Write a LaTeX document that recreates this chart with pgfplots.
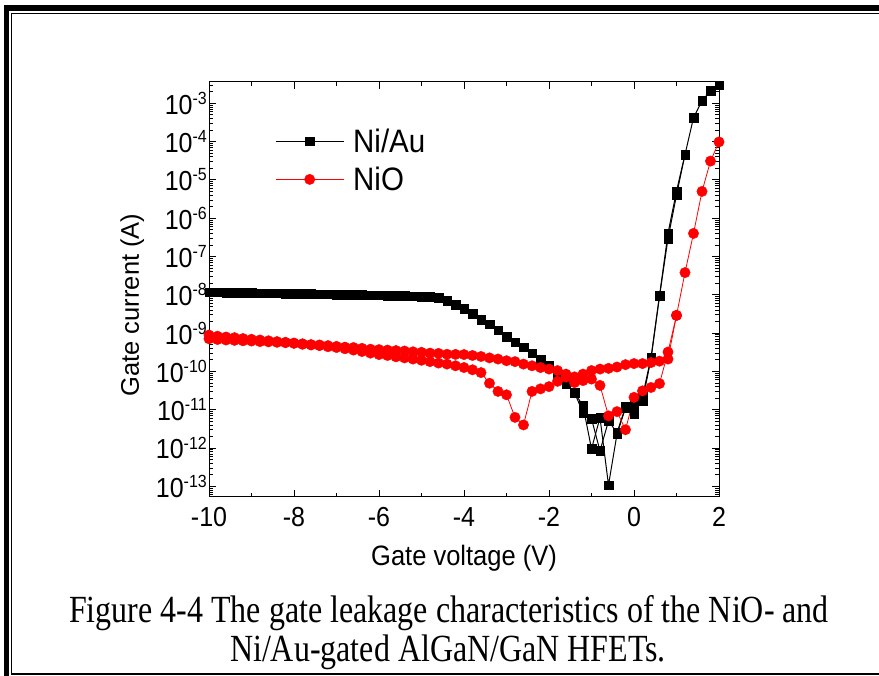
\documentclass[border=0pt]{standalone}
\usepackage{pgfplots}
\pgfplotsset{compat=1.18}
\usepackage{pgfplotstable}
\usepackage{fontspec}
\usepackage{graphicx}
\setmainfont{Liberation Sans}
\newfontfamily\capfont{Liberation Serif}

% Ni/Au, main sweep
\pgfplotstableread{
V I
-10.0 1.17e-8
-9.8 1.16e-8
-9.6 1.15e-8
-9.4 1.14e-8
-9.2 1.13e-8
-9.0 1.12e-8
-8.8 1.11e-8
-8.6 1.10e-8
-8.4 1.09e-8
-8.2 1.08e-8
-8.0 1.07e-8
-7.8 1.06e-8
-7.6 1.05e-8
-7.4 1.04e-8
-7.2 1.03e-8
-7.0 1.02e-8
-6.8 1.01e-8
-6.6 1.00e-8
-6.4 9.9e-9
-6.2 9.8e-9
-6.0 9.7e-9
-5.8 9.6e-9
-5.6 9.5e-9
-5.4 9.4e-9
-5.2 9.2e-9
-5.0 9.0e-9
-4.8 8.8e-9
-4.6 8.3e-9
-4.4 7.0e-9
-4.2 5.6e-9
-4.0 4.3e-9
-3.8 3.2e-9
-3.6 2.2e-9
-3.4 1.7e-9
-3.2 1.2e-9
-3.0 8.1e-10
-2.8 5.8e-10
-2.6 4.3e-10
-2.4 3.0e-10
-2.2 2.0e-10
-2.0 1.4e-10
-1.8 8.5e-11
-1.6 4.7e-11
-1.4 2.8e-11
-1.2 1.26e-11
-1.0 9.5e-13
-0.8 6.2e-12
-0.6 1.07e-13
-0.4 2.3e-12
-0.2 1.1e-11
0.0 1.25e-11
0.2 1.7e-11
0.4 2.1e-10
0.6 9.1e-9
0.8 2.95e-7
1.0 4.0e-6
1.2 4.6e-5
1.4 4.2e-4
1.6 1.17e-3
1.8 2.1e-3
2.0 3.0e-3
}\niauA

% Ni/Au, second sweep where it differs
\pgfplotstableread{
V I
-1.4 2.8e-11
-1.2 8.3e-12
-1.0 5.8e-12
-0.8 8.4e-13
-0.6 5.1e-12
-0.4 2.5e-12
-0.2 1.2e-11
0.0 7.6e-12
0.2 2.2e-11
0.4 2.3e-10
0.6 9.5e-9
0.8 4.0e-7
1.0 5.1e-6
1.2 4.6e-5
}\niauB

% NiO, lower sweep
\pgfplotstableread{
V I
-10.0 7.1e-10
-9.8 6.8e-10
-9.6 6.6e-10
-9.4 6.45e-10
-9.2 6.3e-10
-9.0 6.2e-10
-8.8 6.0e-10
-8.6 5.9e-10
-8.4 5.75e-10
-8.2 5.6e-10
-8.0 5.4e-10
-7.8 5.1e-10
-7.6 4.9e-10
-7.4 4.7e-10
-7.2 4.4e-10
-7.0 4.2e-10
-6.8 3.9e-10
-6.6 3.6e-10
-6.4 3.3e-10
-6.2 3.0e-10
-6.0 2.75e-10
-5.8 2.6e-10
-5.6 2.4e-10
-5.4 2.25e-10
-5.2 2.1e-10
-5.0 1.95e-10
-4.8 1.8e-10
-4.6 1.65e-10
-4.4 1.55e-10
-4.2 1.4e-10
-4.0 1.26e-10
-3.8 1.1e-10
-3.6 9.3e-11
-3.4 4.9e-11
-3.2 3.0e-11
-3.0 2.45e-11
-2.8 6.3e-12
-2.6 4.0e-12
-2.4 3.0e-11
-2.2 3.5e-11
-2.0 4.0e-11
-1.8 5.5e-11
-1.6 7.1e-11
-1.4 5.1e-11
-1.2 5.75e-11
-1.0 6.3e-11
-0.8 4.3e-11
-0.6 6.9e-12
-0.4 8.9e-12
-0.2 3.0e-12
0.0 2.1e-11
0.2 3.1e-11
0.4 3.8e-11
0.6 4.8e-11
0.8 3.2e-10
1.0 2.9e-9
1.2 3.8e-8
1.4 4.0e-7
1.6 5.0e-6
1.8 3.1e-5
2.0 9.8e-5
}\nioA

% NiO, upper sweep
\pgfplotstableread{
V I
-10.0 8.9e-10
-9.8 8.3e-10
-9.6 7.9e-10
-9.4 7.6e-10
-9.2 7.2e-10
-9.0 6.9e-10
-8.8 6.6e-10
-8.6 6.3e-10
-8.4 6.0e-10
-8.2 5.75e-10
-8.0 5.5e-10
-7.8 5.25e-10
-7.6 5.0e-10
-7.4 4.9e-10
-7.2 4.7e-10
-7.0 4.5e-10
-6.8 4.3e-10
-6.6 4.2e-10
-6.4 4.0e-10
-6.2 3.8e-10
-6.0 3.7e-10
-5.8 3.6e-10
-5.6 3.5e-10
-5.4 3.4e-10
-5.2 3.25e-10
-5.0 3.15e-10
-4.8 3.0e-10
-4.6 2.95e-10
-4.4 2.8e-10
-4.2 2.78e-10
-4.0 2.75e-10
-3.8 2.6e-10
-3.6 2.45e-10
-3.4 2.25e-10
-3.2 2.1e-10
-3.0 1.9e-10
-2.8 1.8e-10
-2.6 1.55e-10
-2.4 1.4e-10
-2.2 1.26e-10
-2.0 1.15e-10
-1.8 1.05e-10
-1.6 8.5e-11
-1.4 7.2e-11
-1.2 8.5e-11
-1.0 1.05e-10
-0.8 1.15e-10
-0.6 1.2e-10
-0.4 1.3e-10
-0.2 1.5e-10
0.0 1.6e-10
0.2 1.6e-10
0.4 1.7e-10
0.6 1.85e-10
0.8 2.1e-10
1.0 2.9e-9
}\nioB

\newcommand{\vs}[1]{\scalebox{1}[1.1]{#1}}

\begin{document}
\begin{tikzpicture}[x=1pt,y=1pt]
\useasboundingbox (0,0) rectangle (879,676);
% frame
\fill[black] (4,0) rectangle (9,671);
\fill[black] (4,665) rectangle (879,671);
\fill[black] (11,1) rectangle (12.3,663);
\fill[black] (11,661.5) rectangle (879,663);
\fill[black] (11,1) rectangle (879,2.5);

\begin{axis}[
  at={(209pt,179pt)}, anchor=south west,
  scale only axis, width=510pt, height=415pt,
  xmin=-10, xmax=2,
  ymode=log, log basis y=10,
  ymin=5.25e-14, ymax=3.6e-3,
  xtick={-10,-8,-6,-4,-2,0,2},
  xticklabels={\vs{-10},\vs{-8},\vs{-6},\vs{-4},\vs{-2},\vs{0},\vs{2}},
  minor xtick={-9,-7,-5,-3,-1,1},
  ytick={1e-13,1e-12,1e-11,1e-10,1e-9,1e-8,1e-7,1e-6,1e-5,1e-4,1e-3},
  minor ytick={6e-14,7e-14,8e-14,9e-14,
    2e-13,3e-13,4e-13,5e-13,6e-13,7e-13,8e-13,9e-13,
    2e-12,3e-12,4e-12,5e-12,6e-12,7e-12,8e-12,9e-12,
    2e-11,3e-11,4e-11,5e-11,6e-11,7e-11,8e-11,9e-11,
    2e-10,3e-10,4e-10,5e-10,6e-10,7e-10,8e-10,9e-10,
    2e-9,3e-9,4e-9,5e-9,6e-9,7e-9,8e-9,9e-9,
    2e-8,3e-8,4e-8,5e-8,6e-8,7e-8,8e-8,9e-8,
    2e-7,3e-7,4e-7,5e-7,6e-7,7e-7,8e-7,9e-7,
    2e-6,3e-6,4e-6,5e-6,6e-6,7e-6,8e-6,9e-6,
    2e-5,3e-5,4e-5,5e-5,6e-5,7e-5,8e-5,9e-5,
    2e-4,3e-4,4e-4,5e-4,6e-4,7e-4,8e-4,9e-4,
    2e-3,3e-3},
  yticklabel={\pgfmathparse{int(round(\tick))}\edef\expo{\pgfmathresult}\vs{10\raisebox{9pt}{\fontsize{16}{16}\selectfont\expo}}},
  tick align=inside,
  major tick length=7pt, minor tick length=4pt,
  every tick/.style={black, line width=0.8pt},
  axis line style={line width=1pt},
  tick label style={font=\fontsize{25}{30}\selectfont},
  xticklabel style={inner sep=0pt, yshift=-10pt},
  yticklabel style={inner sep=0pt, xshift=-2pt},
  label style={font=\fontsize{25.5}{30}\selectfont},
  xlabel={\vs{Gate voltage (V)}},
  ylabel={Gate current (A)},
  xlabel style={at={(axis description cs:0.5,-0.1639)}, anchor=base},
  ylabel style={at={(axis description cs:-0.1373,0.4627)}, anchor=base},
  legend style={at={(axis description cs:0.1294,0.8875)}, anchor=north west,
    draw=none, fill=none, font=\fontsize{29.5}{34}\selectfont,
    row sep=13pt, column sep=9pt, inner sep=0pt, nodes={inner sep=0pt}},
  legend cell align=left,
  legend image code/.code={\draw[mark repeat=2,mark phase=2,#1] plot coordinates {(0pt,0pt) (34pt,0pt) (68pt,0pt)};},
]
\addplot[black, line width=1pt, mark=square*, mark size=4.3pt, mark options={solid, line width=0.4pt}] table[x=V,y=I]{\niauA};
\addlegendentry{\vs{Ni/Au}}
\addplot[forget plot, black, line width=1pt, mark=square*, mark size=4.3pt, mark options={solid, line width=0.4pt}] table[x=V,y=I]{\niauB};
\addplot[red, line width=0.8pt, mark=*, mark size=5.2pt, mark options={solid, line width=0.4pt}] table[x=V,y=I]{\nioA};
\addlegendentry{\vs{NiO}}
\addplot[forget plot, red, line width=0.8pt, mark=*, mark size=5.2pt, mark options={solid, line width=0.4pt}] table[x=V,y=I]{\nioB};
\end{axis}

\node[anchor=base, inner sep=0pt] at (449,53) {\capfont\fontsize{32}{38}\selectfont\scalebox{1}[1.2]{Figure 4-4 The gate leakage characteristics of the NiO- and}};
\node[anchor=base, inner sep=0pt] at (448,14) {\capfont\fontsize{32}{38}\selectfont\scalebox{1}[1.2]{Ni/Au-gated AlGaN/GaN HFETs.}};
\end{tikzpicture}
\end{document}
